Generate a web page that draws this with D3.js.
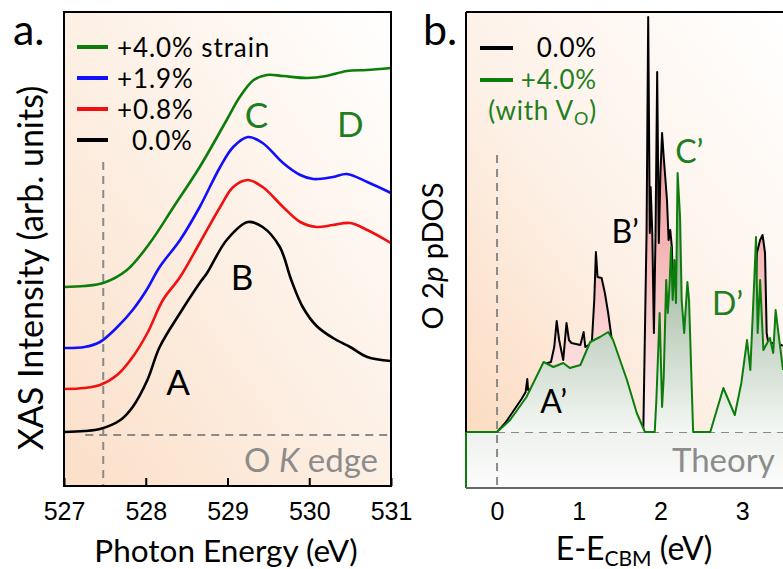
<!DOCTYPE html>
<html lang="en">
  <head>
    <meta charset="utf-8">
    <script type="text/javascript" src="https://cdn.jsdelivr.net/npm/d3@7"></script>
    <style>
      body{margin:0;background:#fff;}
      text{font-family:Lato,"Open Sans",sans-serif;}
    </style>
  </head>
  <body>
    <svg class="fig"></svg>
  </body>
  <script type="text/javascript">
    // panel a: O K edge XAS, [photon energy (eV), intensity (arb.)]
    var xas40 = [[527.00,1.99],[527.25,2.00],[527.48,2.03],[527.77,2.16],[528.05,2.43],[528.34,2.79],[528.66,3.19],[528.99,3.66],[529.15,3.89],[529.32,4.06],[529.48,4.11],[529.68,4.10],[529.97,4.08],[530.21,4.10],[530.46,4.15],[530.70,4.16],[531.00,4.18]];
    var xas19 = [[527.00,1.38],[527.25,1.39],[527.44,1.44],[527.64,1.58],[527.84,1.76],[528.01,1.96],[528.17,2.19],[528.42,2.46],[528.66,2.79],[528.91,3.19],[529.07,3.39],[529.25,3.49],[529.43,3.43],[529.68,3.23],[529.89,3.11],[530.05,3.07],[530.29,3.09],[530.46,3.12],[530.71,3.04],[531.00,2.93]];
    var xas08 = [[527.00,0.97],[527.25,0.98],[527.44,1.01],[527.65,1.11],[527.84,1.29],[528.02,1.53],[528.21,1.86],[528.42,2.09],[528.66,2.43],[528.91,2.79],[529.07,2.99],[529.25,3.06],[529.43,2.99],[529.68,2.79],[529.89,2.64],[530.09,2.59],[530.29,2.61],[530.50,2.63],[530.71,2.56],[531.00,2.43]];
    var xas00 = [[527.00,0.54],[527.25,0.55],[527.44,0.57],[527.69,0.66],[527.84,0.79],[528.02,1.06],[528.17,1.39],[528.42,1.73],[528.66,2.03],[528.75,2.13],[528.99,2.46],[529.25,2.64],[529.43,2.59],[529.64,2.39],[529.78,2.06],[529.92,1.79],[530.09,1.60],[530.29,1.48],[530.50,1.39],[530.71,1.29],[531.00,1.25]];
    var xasLabels = ['+4.0% strain', '+1.9%', '+0.8%', '  0.0%'];
    var xasColors = ['#0b7d0b', '#1010ff', '#f01010', '#000000'];
    var xasTicks = [527, 528, 529, 530, 531];
    var xasPeaks = [['A',528.25,0.91,'#000'],['B',529.04,1.96,'#000'],['C',529.21,3.58,'#1f7f1f'],['D',530.34,3.49,'#1f7f1f']];
    var edgeOnset = 527.48, xasBase = 0.51;

    // panel b: O 2p pDOS, [E-E_CBM (eV), pDOS (arb.)]
    var dos40 = [[-0.38,-0.56],[-0.38,0],[0,0],[0.16,0.12],[0.36,0.35],[0.57,0.70],[0.69,0.65],[0.81,0.69],[0.89,0.64],[1.02,0.67],[1.14,0.90],[1.26,0.95],[1.36,1.00],[1.42,0.92],[1.59,0.52],[1.71,0.19],[1.81,0],[1.93,0],[1.95,0.32],[1.99,1.19],[2.02,0.25],[2.04,0.55],[2.07,1.52],[2.09,1.19],[2.11,1.45],[2.13,1.85],[2.15,1.32],[2.17,1.72],[2.19,1.29],[2.21,2.59],[2.24,2.15],[2.26,1.32],[2.29,0.99],[2.33,1.50],[2.35,1.32],[2.40,0],[2.61,0],[2.77,0.44],[2.91,0.17],[2.99,0.49],[3.06,0.92],[3.10,0.62],[3.15,1.55],[3.17,1.95],[3.19,0.99],[3.22,1.52],[3.26,0.82],[3.34,0.94],[3.38,0.79],[3.41,1.22],[3.45,0.95],[3.50,0.62]];
    // 0.0% curve, only the stretches that stand above the +4.0% curve (null = break)
    var dos00 = [[0,0],[0.10,0.09],[0.20,0.21],[0.30,0.33],[0.35,0.40],[0.37,0.53],[0.38,0.42],[0.42,0.43],[0.43,null],
                 [0.55,0.67],[0.66,0.70],[0.70,0.85],[0.73,1.11],[0.76,0.92],[0.81,0.72],[0.85,1.09],[0.88,0.92],[0.91,0.89],[1.02,0.87],[1.06,1.00],[1.08,0.85],[1.16,0.89],[1.19,1.32],[1.21,1.80],[1.23,1.55],[1.28,1.54],[1.32,1.39],[1.36,1.19],[1.40,0.95],[1.44,0.85],[1.45,null],
                 [1.79,0],[1.83,1.99],[1.85,4.15],[1.87,1.99],[1.88,2.45],[1.90,1.99],[1.92,0.99],[1.94,1.99],[1.96,3.60],[1.98,1.89],[2.00,2.59],[2.02,2.99],[2.04,2.75],[2.08,2.32],[2.10,1.92],[2.12,2.02],[2.14,1.85],[2.16,1.20],[2.17,null],
                 [3.15,1.00],[3.18,1.79],[3.22,1.92],[3.25,1.97],[3.28,1.79],[3.30,0.99],[3.32,0.89],[3.38,0.89],[3.48,0.87],[3.50,0.86]];
    var dosTicks = [0, 1, 2, 3];
    var dosPeaks = [['A\u2019',0.53,0.19,'#000'],['B\u2019',1.40,1.89,'#000'],['C\u2019',2.18,2.69,'#1f7f1f'],['D\u2019',2.63,1.17,'#1f7f1f']];

    var svg = d3.select('.fig').attr('width', 783).attr('height', 569);
    var defs = svg.append('defs');

    var grad = function(id, x1, y1, x2, y2, stops, user){
      var g = defs.append('linearGradient').attr('id', id)
                  .attr('x1', x1).attr('y1', y1).attr('x2', x2).attr('y2', y2);
      if(user){ g.attr('gradientUnits', 'userSpaceOnUse'); }
      stops.forEach(function(s){
        g.append('stop').attr('offset', s[0]).attr('stop-color', s[1]);
      });
    };
    grad('bgA', 0, 1, 1, 0, [[0,'#fbdfc8'],[0.5,'#fdf0e5'],[1,'#ffffff']]);
    grad('bgB', 0, 1, 1, 0, [[0,'#fcdcc2'],[0.45,'#fdf1e7'],[1,'#ffffff']]);
    grad('bgLow', 0, 0, 0, 1, [[0,'#eef1ed'],[1,'#fdfdfd']]);
    grad('pink', 0, 12, 0, 432, [[0,'#ee8080'],[0.55,'#f5b4b4'],[1,'#fff6f6']], true);
    grad('sage', 0, 170, 0, 432, [[0,'#7d9c7d'],[0.5,'#b4c7b4'],[1,'#f4f7f4']], true);

    // ---------------- panel a ----------------
    var xa = d3.scaleLinear().domain([527, 531]).range([64, 391]);
    var ya = d3.scaleLinear().domain([0, 4.74]).range([486, 12]);

    svg.append('rect').attr('x', 64).attr('y', 12).attr('width', 327).attr('height', 474)
       .attr('fill', 'url(#bgA)');

    var dash = '8,6';
    svg.append('line').attr('x1', xa(edgeOnset)).attr('x2', xa(edgeOnset))
       .attr('y1', ya(3.24)).attr('y2', ya(0))
       .attr('stroke', '#8a8a8a').attr('stroke-width', 2).attr('stroke-dasharray', dash);
    svg.append('line').attr('x1', xa(527.26)).attr('x2', xa(531))
       .attr('y1', ya(xasBase)).attr('y2', ya(xasBase))
       .attr('stroke', '#8a8a8a').attr('stroke-width', 2).attr('stroke-dasharray', dash);

    var lineA = d3.line().x(function(d){return xa(d[0])}).y(function(d){return ya(d[1])})
                  .curve(d3.curveCatmullRom.alpha(0.5));
    var xasSeries = [xas40, xas19, xas08, xas00];
    svg.append('g').selectAll('path')
       .data(xasSeries).enter().append('path')
       .attr('d', lineA).attr('fill', 'none')
       .attr('stroke', function(d,i){return xasColors[i]})
       .attr('stroke-width', 2.6);

    // frame
    svg.append('rect').attr('x', 64).attr('y', 12).attr('width', 327).attr('height', 474)
       .attr('fill', 'none').attr('stroke', '#000').attr('stroke-width', 2);

    var axA = svg.append('g').attr('transform', 'translate(0,486)')
                 .call(d3.axisBottom(xa).tickValues(xasTicks).tickFormat(d3.format('d'))
                         .tickSize(-8).tickPadding(16));
    axA.select('.domain').remove();
    axA.selectAll('line').attr('stroke', '#000').attr('stroke-width', 2);
    axA.selectAll('text').style('font-family', '"Liberation Sans", Arial, sans-serif')
       .attr('font-size', 25).attr('fill', '#000');

    var legA = svg.append('g').selectAll('g').data(xasLabels).enter().append('g')
                  .attr('transform', function(d,i){return 'translate(0,' + (47 + i*31) + ')'});
    legA.append('line').attr('x1', 77).attr('x2', 108).attr('y1', 0).attr('y2', 0)
        .attr('stroke', function(d,i){return xasColors[i]}).attr('stroke-width', 4);
    legA.append('text').attr('x', 117).attr('y', 9.5)
        .style('white-space', 'pre').attr('font-size', 26).attr('letter-spacing', 0.9)
        .text(function(d){return d});

    svg.append('g').selectAll('text').data(xasPeaks).enter().append('text')
       .attr('x', function(d){return xa(d[1])}).attr('y', function(d){return ya(d[2])})
       .attr('fill', function(d){return d[3]}).attr('font-size', 35)
       .text(function(d){return d[0]});

    var okEdge = svg.append('text').attr('x', 378).attr('y', 472).attr('text-anchor', 'end')
                    .attr('font-size', 33).attr('fill', '#8c8c8c');
    okEdge.append('tspan').text('O ');
    okEdge.append('tspan').attr('font-style', 'italic').text('K');
    okEdge.append('tspan').text(' edge');

    svg.append('text').attr('x', 13).attr('y', 45).attr('font-size', 43).text('a.');
    svg.append('text').attr('transform', 'translate(43,268) rotate(-90)')
       .attr('text-anchor', 'middle').attr('font-size', 34).text('XAS Intensity (arb. units)');
    svg.append('text').attr('x', 226).attr('y', 562).attr('text-anchor', 'middle')
       .attr('font-size', 31.5).text('Photon Energy (eV)');

    // ---------------- panel b ----------------
    var xb = d3.scaleLinear().domain([-0.38, 3.5]).range([466, 783]);
    var yb = d3.scaleLinear().domain([-0.56, 4.2]).range([488, 12]);

    svg.append('rect').attr('x', 466).attr('y', 12).attr('width', 317).attr('height', yb(0) - 12)
       .attr('fill', 'url(#bgB)');
    svg.append('rect').attr('x', 466).attr('y', yb(0)).attr('width', 317).attr('height', 488 - yb(0))
       .attr('fill', 'url(#bgLow)');

    svg.append('line').attr('x1', xb(0)).attr('x2', xb(0))
       .attr('y1', yb(2.77)).attr('y2', yb(-0.56))
       .attr('stroke', '#8a8a8a').attr('stroke-width', 2).attr('stroke-dasharray', dash);
    svg.append('line').attr('x1', xb(0)).attr('x2', xb(3.5))
       .attr('y1', yb(0)).attr('y2', yb(0))
       .attr('stroke', '#8a8a8a').attr('stroke-width', 2).attr('stroke-dasharray', dash);

    var defined = function(d){return d[1] !== null};
    var areaB = d3.area().defined(defined).x(function(d){return xb(d[0])})
                  .y0(yb(0)).y1(function(d){return yb(d[1])});
    var lineB = d3.line().defined(defined).x(function(d){return xb(d[0])})
                  .y(function(d){return yb(d[1])});

    svg.append('path').datum(dos00).attr('d', areaB).attr('fill', 'url(#pink)');
    svg.append('path').datum(dos00).attr('d', lineB).attr('fill', 'none')
       .attr('stroke', '#000').attr('stroke-width', 2).attr('stroke-linejoin', 'round');
    svg.append('path').datum(dos40.filter(function(d){return d[1] >= 0}))
       .attr('d', areaB).attr('fill', 'url(#sage)');
    svg.append('path').datum(dos40).attr('d', lineB).attr('fill', 'none')
       .attr('stroke', '#0b7d0b').attr('stroke-width', 2).attr('stroke-linejoin', 'round');

    // frame: black top and left (above zero), grey bottom
    svg.append('line').attr('x1', 466).attr('x2', 783).attr('y1', 12).attr('y2', 12)
       .attr('stroke', '#000').attr('stroke-width', 2);
    svg.append('line').attr('x1', 466).attr('x2', 466).attr('y1', 12).attr('y2', yb(0))
       .attr('stroke', '#000').attr('stroke-width', 2);
    svg.append('line').attr('x1', 466).attr('x2', 783).attr('y1', 488).attr('y2', 488)
       .attr('stroke', '#666').attr('stroke-width', 2);

    var axB = svg.append('g').attr('transform', 'translate(0,488)')
                 .call(d3.axisBottom(xb).tickValues(dosTicks).tickFormat(d3.format('d'))
                         .tickSize(0).tickPadding(14));
    axB.select('.domain').remove();
    axB.selectAll('text').style('font-family', '"Liberation Sans", Arial, sans-serif')
       .attr('font-size', 25).attr('fill', '#000');

    // legend b
    svg.append('line').attr('x1', 480).attr('x2', 513).attr('y1', 48).attr('y2', 48)
       .attr('stroke', '#000').attr('stroke-width', 4);
    svg.append('line').attr('x1', 480).attr('x2', 513).attr('y1', 80).attr('y2', 80)
       .attr('stroke', '#0b7d0b').attr('stroke-width', 4);
    svg.append('text').attr('x', 597).attr('y', 57).attr('text-anchor', 'end')
       .attr('font-size', 26).attr('letter-spacing', 0.8).text('0.0%');
    svg.append('text').attr('x', 597).attr('y', 89).attr('text-anchor', 'end')
       .attr('font-size', 26).attr('letter-spacing', 0.8).attr('fill', '#1f7f1f').text('+4.0%');
    var withVo = svg.append('text').attr('x', 597).attr('y', 120).attr('text-anchor', 'end')
                    .attr('font-size', 26).attr('letter-spacing', 0.8).attr('fill', '#1f7f1f');
    withVo.append('tspan').text('(with V');
    withVo.append('tspan').attr('font-size', 18).attr('dy', 5).text('O');
    withVo.append('tspan').attr('dy', -5).text(')');

    svg.append('g').selectAll('text').data(dosPeaks).enter().append('text')
       .attr('x', function(d){return xb(d[1])}).attr('y', function(d){return yb(d[2])})
       .attr('fill', function(d){return d[3]}).attr('font-size', 32)
       .text(function(d){return d[0]});

    svg.append('text').attr('x', 672).attr('y', 472).attr('font-size', 33)
       .attr('fill', '#8c8c8c').text('Theory');

    svg.append('text').attr('x', 423).attr('y', 45).attr('font-size', 43).text('b.');
    var yTitleB = svg.append('text').attr('transform', 'translate(443,256) rotate(-90)')
                     .attr('text-anchor', 'middle').attr('font-size', 29);
    yTitleB.append('tspan').text('O 2');
    yTitleB.append('tspan').attr('font-style', 'italic').text('p');
    yTitleB.append('tspan').text(' pDOS');

    var xTitleB = svg.append('text').attr('x', 634).attr('y', 560).attr('text-anchor', 'middle')
                     .attr('font-size', 32);
    xTitleB.append('tspan').text('E-E');
    xTitleB.append('tspan').attr('font-size', 21).attr('dy', 6).text('CBM');
    xTitleB.append('tspan').attr('dy', -6).text(' (eV)');
  </script>
</html>
